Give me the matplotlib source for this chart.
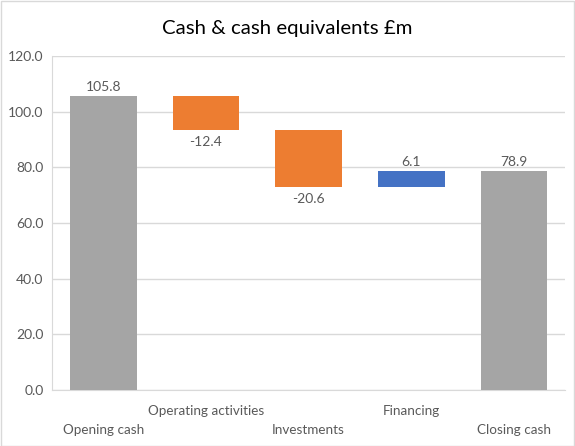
import matplotlib
matplotlib.use("Agg")
import matplotlib.pyplot as plt
from matplotlib.patches import Rectangle

categories = ["Opening cash", "Operating activities", "Investments", "Financing", "Closing cash"]
values = [105.8, -12.4, -20.6, 6.1, 78.9]
is_total = [True, False, False, False, True]
yticks = [0, 20, 40, 60, 80, 100, 120]

GRAY = "#A5A5A5"
ORANGE = "#ED7D31"
BLUE = "#4472C4"
TXT = "#595959"

plt.rcParams['font.family'] = ['Lato', 'DejaVu Sans']

fig = plt.figure(figsize=(5.75, 4.46), dpi=100)
ax = fig.add_axes([0.0904, 0.1256, 0.8926, 0.7484])

running = 0.0
for i, (v, tot) in enumerate(zip(values, is_total)):
    if tot:
        bottom, height, color = 0, v, GRAY
        running = v
        top = v
        ax.text(i, top + 0.8, f"{v:.1f}", ha="center", va="bottom", fontsize=10, color=TXT)
    else:
        start = running
        end = running + v
        bottom = min(start, end)
        height = abs(v)
        color = ORANGE if v < 0 else BLUE
        running = end
        if v < 0:
            ax.text(i, bottom - 2.0, f"{v:.1f}", ha="center", va="top", fontsize=10, color=TXT)
        else:
            ax.text(i, bottom + height + 0.8, f"{v:.1f}", ha="center", va="bottom", fontsize=10, color=TXT)
    ax.bar(i, height, bottom=bottom, width=0.65, color=color, zorder=3)

ax.set_xlim(-0.5, len(categories) - 0.5)
ax.set_ylim(0, 120)
ax.set_yticks(yticks)
ax.set_yticklabels([f"{t:.1f}" for t in yticks], fontsize=10, color=TXT)
ax.tick_params(axis="y", length=0, pad=6)
ax.tick_params(axis="x", length=0)
ax.set_xticks([])
ax.grid(axis="y", color="#D9D9D9", linewidth=1, zorder=0)
for s in ["top", "right"]:
    ax.spines[s].set_visible(False)
ax.spines["left"].set_color("#D9D9D9")
ax.spines["bottom"].set_color("#D9D9D9")

for i, c in enumerate(categories):
    y = -12.2 if i % 2 == 0 else -5.4
    ax.text(i, y, c, ha="center", va="top", fontsize=9.7, color=TXT)

fig.text(0.5, 0.937, "Cash & cash equivalents £m", ha="center", va="center", fontsize=14.7, color="#000000")

fig.patches.append(Rectangle((0.001, 0.001), 0.997, 0.997, transform=fig.transFigure,
                             fill=False, edgecolor="#D9D9D9", linewidth=1))

fig.savefig("out.png", dpi=100)
